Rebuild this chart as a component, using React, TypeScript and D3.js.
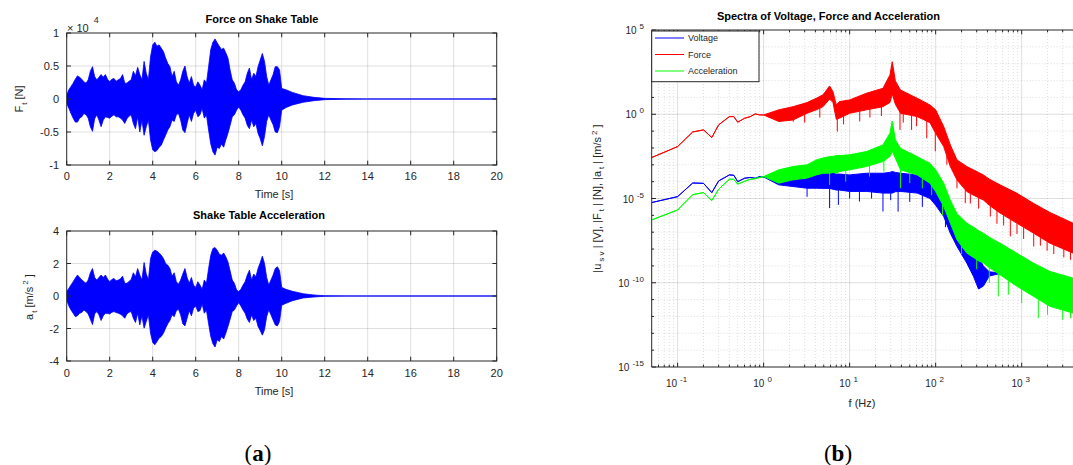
import React from 'react';
import * as d3 from 'd3';

// ---------------- DATA ----------------
const timeS = [
  0, 0.1, 0.2, 0.3, 0.4, 0.5, 0.6, 0.7, 0.8, 0.9,
  1, 1.1, 1.2, 1.3, 1.4, 1.5, 1.6, 1.7, 1.8, 1.9,
  2, 2.1, 2.2, 2.3, 2.4, 2.5, 2.6, 2.7, 2.8, 2.9,
  3, 3.1, 3.2, 3.3, 3.4, 3.5, 3.6, 3.7, 3.8, 3.9,
  4, 4.1, 4.2, 4.3, 4.4, 4.5, 4.6, 4.7, 4.8, 4.9,
  5, 5.1, 5.2, 5.3, 5.4, 5.5, 5.6, 5.7, 5.8, 5.9,
  6, 6.1, 6.2, 6.3, 6.4, 6.5, 6.6, 6.7, 6.8, 6.9,
  7, 7.1, 7.2, 7.3, 7.4, 7.5, 7.6, 7.7, 7.8, 7.9,
  8, 8.1, 8.2, 8.3, 8.4, 8.5, 8.6, 8.7, 8.8, 8.9,
  9, 9.1, 9.2, 9.3, 9.4, 9.5, 9.6, 9.7, 9.8, 9.9,
  10, 10.2, 10.5, 11, 11.5, 12, 13, 14, 20,
];

// force envelope, in units of 1e4 N
const forceUpper = [
  0.06, 0.14, 0.19, 0.24, 0.30, 0.35, 0.33, 0.30, 0.26, 0.24,
  0.29, 0.42, 0.49, 0.34, 0.29, 0.33, 0.37, 0.33, 0.37, 0.30,
  0.26, 0.30, 0.31, 0.27, 0.29, 0.31, 0.37, 0.24, 0.24, 0.27,
  0.29, 0.42, 0.35, 0.48, 0.37, 0.29, 0.57, 0.39, 0.29, 0.64,
  0.82, 0.86, 0.80, 0.82, 0.77, 0.72, 0.62, 0.54, 0.49, 0.34,
  0.42, 0.26, 0.21, 0.29, 0.42, 0.50, 0.34, 0.24, 0.34, 0.21,
  0.18, 0.26, 0.21, 0.14, 0.29, 0.24, 0.49, 0.75, 0.86, 0.91,
  0.85, 0.80, 0.75, 0.77, 0.70, 0.62, 0.44, 0.29, 0.24, 0.14,
  0.11, 0.14, 0.21, 0.26, 0.39, 0.47, 0.29, 0.39, 0.34, 0.49,
  0.59, 0.69, 0.57, 0.34, 0.21, 0.29, 0.37, 0.49, 0.49, 0.44,
  0.16, 0.14, 0.10, 0.05, 0.025, 0.01, 0.003, 0, 0,
];
const forceLower = [
  -0.07, -0.14, -0.22, -0.29, -0.35, -0.35, -0.29, -0.27, -0.22, -0.24,
  -0.29, -0.42, -0.49, -0.30, -0.24, -0.32, -0.42, -0.32, -0.27, -0.28,
  -0.29, -0.26, -0.24, -0.27, -0.27, -0.29, -0.32, -0.37, -0.30, -0.26,
  -0.24, -0.37, -0.45, -0.27, -0.50, -0.32, -0.55, -0.42, -0.32, -0.62,
  -0.77, -0.80, -0.78, -0.73, -0.70, -0.62, -0.55, -0.47, -0.42, -0.32,
  -0.34, -0.24, -0.22, -0.32, -0.47, -0.51, -0.37, -0.24, -0.34, -0.22,
  -0.17, -0.27, -0.24, -0.14, -0.29, -0.24, -0.47, -0.68, -0.80, -0.85,
  -0.73, -0.75, -0.68, -0.73, -0.62, -0.52, -0.40, -0.27, -0.24, -0.17,
  -0.12, -0.17, -0.24, -0.29, -0.40, -0.45, -0.32, -0.42, -0.37, -0.52,
  -0.60, -0.71, -0.57, -0.34, -0.24, -0.32, -0.39, -0.50, -0.51, -0.42,
  -0.17, -0.13, -0.09, -0.05, -0.025, -0.01, -0.003, 0, 0,
];

// acceleration envelope, m/s^2
const accUpper = [
  0.27, 0.47, 0.68, 0.88, 1.10, 1.29, 1.14, 1.00, 0.88, 0.78,
  0.98, 1.43, 1.69, 1.14, 0.98, 1.14, 1.29, 1.14, 1.29, 1.05,
  0.88, 1.02, 1.08, 0.94, 0.98, 1.06, 1.22, 0.78, 0.78, 0.90,
  1.02, 1.43, 1.18, 1.69, 1.29, 0.98, 2.06, 1.35, 0.98, 2.31,
  2.71, 2.82, 2.76, 2.65, 2.51, 2.31, 2.00, 1.90, 1.69, 1.22,
  1.43, 0.88, 0.73, 0.98, 1.35, 1.69, 1.14, 0.78, 1.14, 0.67,
  0.53, 0.88, 0.67, 0.41, 0.98, 0.78, 1.69, 2.51, 2.92, 2.98,
  2.82, 2.57, 2.51, 2.65, 2.41, 2.10, 1.55, 0.98, 0.78, 0.37,
  0.27, 0.41, 0.67, 0.88, 1.29, 1.59, 0.98, 1.35, 1.18, 1.69,
  2.04, 2.45, 2.00, 1.14, 0.67, 0.98, 1.29, 1.69, 1.80, 1.55,
  0.53, 0.41, 0.29, 0.14, 0.06, 0.02, 0.005, 0, 0,
];
const accLower = [
  -0.25, -0.61, -0.86, -1.06, -1.27, -1.22, -1.06, -1.02, -0.86, -0.96,
  -1.10, -1.43, -1.76, -1.10, -0.96, -1.16, -1.51, -1.22, -1.06, -1.08,
  -1.10, -1.00, -0.96, -1.02, -1.06, -1.12, -1.22, -1.37, -1.10, -1.00,
  -0.96, -1.37, -1.63, -1.06, -1.78, -1.22, -1.98, -1.57, -1.16, -2.29,
  -2.86, -3.00, -2.80, -2.59, -2.49, -2.29, -1.98, -1.71, -1.51, -1.16,
  -1.27, -0.90, -0.82, -1.16, -1.71, -1.84, -1.37, -0.90, -1.22, -0.76,
  -0.61, -0.96, -0.90, -0.49, -1.06, -0.86, -1.71, -2.49, -2.94, -3.14,
  -2.69, -2.80, -2.49, -2.65, -2.29, -1.88, -1.43, -0.96, -0.86, -0.61,
  -0.41, -0.61, -0.86, -1.06, -1.43, -1.63, -1.16, -1.51, -1.37, -1.88,
  -2.12, -2.41, -2.08, -1.27, -0.86, -1.16, -1.47, -1.78, -1.84, -1.57,
  -0.57, -0.45, -0.29, -0.12, -0.06, -0.02, -0.005, 0, 0,
];

const timeTicks = [0, 2, 4, 6, 8, 10, 12, 14, 16, 18, 20];
const forceTicks = [-1, -0.5, 0, 0.5, 1];
const accTicks = [-4, -2, 0, 2, 4];

// spectra: frequency (Hz) and log10 magnitude band (upper / lower)
const specFreq = [
  0.05, 0.1, 0.15, 0.2, 0.25, 0.3, 0.4, 0.45, 0.5, 0.6, 0.7, 0.8, 0.9, 1.0,
  1.5, 2.2, 3.2, 4.1, 4.9, 5.85, 6.4, 7.0, 7.6, 10, 15.7, 24.4, 29.4, 31.3, 34,
  39, 61, 86, 100, 124, 148, 177, 230, 275, 315, 359, 420, 560, 875, 1365,
  2130, 3940, 5000,
];
const forceSpecHi = [
  -2.57, -1.92, -1.05, -0.93, -1.38, -0.63, -0.14, -0.14, -0.47, -0.24, -0.14, 0.02, -0.04, -0.04,
  0.26, 0.45, 0.69, 0.95, 1.15, 1.68, 1.34, 0.55, 0.75, 0.85, 1.25, 1.54, 2.33, 3.12, 1.98,
  1.44, 0.95, 0.55, 0.26, -0.73, -1.82, -2.71, -3.10, -3.30, -3.45, -3.60, -3.85, -4.19, -4.68, -5.28,
  -5.83, -6.46, -6.60,
];
const forceSpecLo = [
  -2.57, -1.92, -1.05, -0.93, -1.38, -0.63, -0.14, -0.14, -0.47, -0.24, -0.14, 0.02, -0.04, -0.04,
  -0.43, -0.34, 0.06, 0.26, 0.45, 0.90, 0.70, -0.30, -0.24, 0.06, 0.26, 0.45, 0.70, 1.20, 0.60,
  0.06, -0.14, -0.50, -1.13, -1.92, -3.10, -3.90, -4.59, -4.80, -4.95, -5.09, -5.40, -5.86, -6.46, -7.05,
  -7.65, -8.24, -8.40,
];
const accSpecHi = [
  -6.27, -5.68, -4.77, -4.65, -5.12, -4.45, -3.86, -3.86, -4.15, -3.98, -3.86, -3.82, -3.75, -3.70,
  -3.30, -3.10, -3.00, -2.71, -2.60, -2.51, -2.50, -2.45, -2.45, -2.41, -2.21, -1.82, -1.13, -0.40, -1.52,
  -2.02, -2.51, -2.91, -3.30, -4.09, -5.10, -5.90, -6.46, -6.70, -6.90, -7.06, -7.30, -7.65, -8.24, -8.83,
  -9.33, -9.72, -9.80,
];
const accSpecLo = [
  -6.27, -5.68, -4.77, -4.65, -5.12, -4.45, -3.86, -3.86, -4.15, -3.98, -3.86, -3.82, -3.75, -3.70,
  -4.09, -3.89, -3.79, -3.60, -3.50, -3.50, -3.45, -3.50, -3.40, -3.30, -3.10, -2.81, -2.50, -2.20, -2.60,
  -3.30, -3.60, -4.10, -4.59, -5.47, -6.46, -7.45, -8.24, -8.50, -8.70, -8.83, -9.10, -9.53, -10.20, -10.80,
  -11.40, -11.80, -11.90,
];
const voltFreq = [
  0.05, 0.1, 0.15, 0.2, 0.25, 0.3, 0.4, 0.45, 0.5, 0.6, 0.7, 0.8, 0.9, 1.0,
  1.5, 2.2, 3.2, 4.1, 4.9, 5.85, 6.4, 7.0, 7.6, 10, 15.7, 24.4, 29.4, 31.3, 34,
  39, 61, 86, 100, 124, 148, 177, 230, 275, 315, 359, 420, 590,
];
const voltSpecHi = [
  -5.24, -4.89, -4.08, -4.10, -4.65, -3.96, -3.60, -3.62, -4.00, -3.80, -3.75, -3.80, -3.70, -3.72,
  -3.40, -3.60, -3.60, -3.50, -3.50, -3.50, -3.50, -3.55, -3.55, -3.60, -3.50, -3.50, -3.45, -3.40, -3.45,
  -3.50, -3.60, -3.79, -4.09, -4.68, -5.30, -6.00, -7.20, -7.80, -8.50, -9.00, -9.35, -9.43,
];
const voltSpecLo = [
  -5.24, -4.89, -4.08, -4.10, -4.65, -3.96, -3.60, -3.62, -4.00, -3.80, -3.75, -3.80, -3.70, -3.72,
  -4.19, -4.29, -4.39, -4.39, -4.40, -4.40, -4.45, -4.50, -4.50, -4.58, -4.58, -4.68, -4.68, -4.68, -4.60,
  -4.58, -4.68, -5.00, -5.40, -6.07, -7.06, -7.85, -8.83, -9.62, -10.37, -10.20, -9.60, -9.43,
];
// downward spikes: [frequency Hz, log10 magnitude]
const forceSpikes = [
  [2.21, -0.44], [3.0, -0.5], [4.5, -0.2], [7.19, -1.03], [8.5, -0.6], [13.1, -0.43], [17.2, -0.2],
  [23.4, -0.1], [38.5, -0.93], [42, -0.5], [52.5, -0.93], [60, -0.7], [78.8, -1.42], [99, -2.2],
  [135, -3.0], [177, -4.4], [221, -5.28], [253, -5.3], [316, -5.6], [432, -6.07], [516, -6.5],
  [617, -6.6], [738, -7.25], [882, -7.1], [1054, -7.4], [1380, -7.85], [1650, -7.8], [1975, -8.1],
  [2360, -8.3], [3090, -8.5], [3690, -8.64],
];
const accSpikes = [
  [5.85, -4.2], [9, -4.0], [17, -3.7], [25, -3.4], [39, -4.39], [50, -4.09], [70, -4.4], [90, -4.8],
  [120, -6.0], [200, -8.3], [300, -9.2], [420, -10.0], [535, -10.81], [700, -10.7], [1000, -11.2],
  [1560, -12.1], [2000, -11.9], [3000, -12.2], [3700, -12.1],
];
const voltSpikes = [
  [3.2, -4.9], [5.85, -5.57], [7.4, -5.38], [10, -5.0], [13, -5.18], [18, -5.0], [24.4, -5.77],
  [30, -5.1], [36.6, -5.78], [50, -5.2], [70, -5.5], [130, -6.7],
];

const freqDecades = [0.1, 1, 10, 100, 1000];
const freqExps = ['-1', '0', '1', '2', '3'];
const magTicks = [1e5, 1, 1e-5, 1e-10, 1e-15];
const magExps = ['5', '0', '-5', '-10', '-15'];
const legendNames = ['Voltage', 'Force', 'Acceleration'];
const seriesColors = ['#0000ff', '#ff0000', '#00ff00'];

// ---------------- STYLE ----------------
const FONT = "'Liberation Sans', Arial, Helvetica, sans-serif";
const AX = '#262626';
const GRID = 'rgba(38,38,38,0.15)';

type TP = {
  top: number; bottom: number; yMax: number; ticks: number[];
  upper: number[]; lower: number[]; title: string; titleX: number; titleY: number;
  xlabelY: number; tickY: number; id: string;
};

function TimePanel(p: TP) {
  const L = 66.7, R = 496.7;
  const x = d3.scaleLinear().domain([0, 20]).range([L, R]);
  const y = d3.scaleLinear().domain([-p.yMax, p.yMax]).range([p.bottom, p.top]);
  const area = d3.area<number>()
    .x((_, i) => x(timeS[i]))
    .y0((_, i) => y(p.lower[i]))
    .y1((d) => y(d));
  const tl = 4.3;
  return (
    <g>
      <defs>
        <clipPath id={p.id}><rect x={L} y={p.top} width={R - L} height={p.bottom - p.top} /></clipPath>
      </defs>
      {timeTicks.filter((t) => t > 0 && t < 20).map((t) => (
        <line key={'gx' + t} x1={x(t)} x2={x(t)} y1={p.top} y2={p.bottom} stroke={GRID} strokeWidth={1} />
      ))}
      {p.ticks.filter((t) => Math.abs(t) < p.yMax).map((t) => (
        <line key={'gy' + t} x1={L} x2={R} y1={y(t)} y2={y(t)} stroke={GRID} strokeWidth={1} />
      ))}
      <path d={area(p.upper) || ''} fill="#0000ff" stroke="#0000ff" strokeWidth={0.8} clipPath={`url(#${p.id})`} />
      <rect x={L} y={p.top} width={R - L} height={p.bottom - p.top} fill="none" stroke={AX} strokeWidth={1} />
      {timeTicks.map((t) => (
        <g key={'tx' + t}>
          <line x1={x(t)} x2={x(t)} y1={p.bottom} y2={p.bottom - tl} stroke={AX} />
          <line x1={x(t)} x2={x(t)} y1={p.top} y2={p.top + tl} stroke={AX} />
          <text x={x(t)} y={p.tickY} textAnchor="middle" fontSize={11} fill={AX} fontFamily={FONT}>{t}</text>
        </g>
      ))}
      {p.ticks.map((t) => (
        <g key={'ty' + t}>
          <line x1={L} x2={L + tl} y1={y(t)} y2={y(t)} stroke={AX} />
          <line x1={R} x2={R - tl} y1={y(t)} y2={y(t)} stroke={AX} />
          <text x={59} y={y(t) + 4} textAnchor="end" fontSize={11} fill={AX} fontFamily={FONT}>{t}</text>
        </g>
      ))}
      <text x={p.titleX} y={p.titleY} textAnchor="middle" fontSize={11} fontWeight="bold" fill="#000" fontFamily={FONT}>{p.title}</text>
      <text x={274} y={p.xlabelY} textAnchor="middle" fontSize={11} fill={AX} fontFamily={FONT}>Time [s]</text>
    </g>
  );
}

function lowerAt(freqs: number[], lows: number[], f: number) {
  for (let i = 0; i < freqs.length - 1; i++) {
    if (f >= freqs[i] && f <= freqs[i + 1]) {
      const a = Math.log10(freqs[i]), b = Math.log10(freqs[i + 1]);
      const t = (Math.log10(f) - a) / (b - a);
      return lows[i] + t * (lows[i + 1] - lows[i]);
    }
  }
  return lows[lows.length - 1];
}

function SpectrumPanel() {
  const L = 651.7, T = 30, B = 367;
  const x = d3.scaleLog().domain([0.05, 5000]).range([L, 1081.8]);
  const y = d3.scaleLog().domain([1e-15, 1e5]).range([B, T]);
  const Rv = 1073;
  const mk = (freqs: number[], hi: number[], lo: number[]) =>
    d3.area<number>()
      .x((_, i) => x(freqs[i]))
      .y0((_, i) => y(Math.pow(10, lo[i])))
      .y1((d) => y(Math.pow(10, d)))(hi) || '';
  const series = [
    { f: voltFreq, hi: voltSpecHi, lo: voltSpecLo, sp: voltSpikes, c: seriesColors[0] },
    { f: specFreq, hi: forceSpecHi, lo: forceSpecLo, sp: forceSpikes, c: seriesColors[1] },
    { f: specFreq, hi: accSpecHi, lo: accSpecLo, sp: accSpikes, c: seriesColors[2] },
  ];
  const minorX: number[] = [];
  for (let e = -2; e <= 3; e++) for (let m = 2; m <= 9; m++) {
    const v = m * Math.pow(10, e);
    if (v > 0.05 && v < 5000) minorX.push(v);
  }
  const minorY: number[] = [];
  for (let e = -14; e <= 4; e++) if (e % 5 !== 0) minorY.push(Math.pow(10, e));
  return (
    <g>
      <defs>
        <clipPath id="specclip"><rect x={L} y={T} width={Rv - L} height={B - T} /></clipPath>
      </defs>
      {minorX.map((v, i) => (
        <line key={'mx' + i} x1={x(v)} x2={x(v)} y1={T} y2={B} stroke={GRID} strokeDasharray="1,2" />
      ))}
      {minorY.map((v, i) => (
        <line key={'my' + i} x1={L} x2={Rv} y1={y(v)} y2={y(v)} stroke={GRID} strokeDasharray="1,2" />
      ))}
      {freqDecades.map((v) => (
        <line key={'gx' + v} x1={x(v)} x2={x(v)} y1={T} y2={B} stroke={GRID} />
      ))}
      {magTicks.filter((v) => v > 1e-15 && v < 1e5).map((v) => (
        <line key={'gy' + v} x1={L} x2={Rv} y1={y(v)} y2={y(v)} stroke={GRID} />
      ))}
      <g clipPath="url(#specclip)">
        {series.map((s, k) => (
          <g key={'s' + k}>
            <path d={mk(s.f, s.hi, s.lo)} fill={s.c} stroke={s.c} strokeWidth={1} strokeLinejoin="round" />
            {s.sp.map((p, j) => (
              <line key={j} x1={x(p[0])} x2={x(p[0])} y1={y(Math.pow(10, lowerAt(s.f, s.lo, p[0])))} y2={y(Math.pow(10, p[1]))} stroke={s.c} strokeWidth={1} />
            ))}
          </g>
        ))}
      </g>
      <line x1={L} x2={Rv} y1={B} y2={B} stroke={AX} />
      <line x1={L} x2={Rv} y1={T} y2={T} stroke={AX} />
      <line x1={L} x2={L} y1={T} y2={B} stroke={AX} />
      {freqDecades.map((v, i) => (
        <g key={'tx' + v}>
          <line x1={x(v)} x2={x(v)} y1={B} y2={B - 4.3} stroke={AX} />
          <line x1={x(v)} x2={x(v)} y1={T} y2={T + 4.3} stroke={AX} />
          <text x={x(v) - 1} y={387} textAnchor="middle" fontSize={10} fill={AX} fontFamily={FONT}>
            10<tspan dx={3} dy={-5} fontSize={8}>{freqExps[i]}</tspan>
          </text>
        </g>
      ))}
      {minorX.map((v, i) => (
        <g key={'mtx' + i}>
          <line x1={x(v)} x2={x(v)} y1={B} y2={B - 2.3} stroke={AX} />
          <line x1={x(v)} x2={x(v)} y1={T} y2={T + 2.3} stroke={AX} />
        </g>
      ))}
      {magTicks.map((v, i) => (
        <g key={'ty' + i}>
          <line x1={L} x2={L + 4.3} y1={y(v)} y2={y(v)} stroke={AX} />
          <text x={644} y={y(v) + 4} textAnchor="end" fontSize={10} fill={AX} fontFamily={FONT}>
            10<tspan dx={3} dy={-5} fontSize={8}>{magExps[i]}</tspan>
          </text>
        </g>
      ))}
      {minorY.map((v, i) => (
        <line key={'mty' + i} x1={L} x2={L + 2.3} y1={y(v)} y2={y(v)} stroke={AX} />
      ))}
      <text x={828.5} y={20} textAnchor="middle" fontSize={11} fontWeight="bold" fill="#000" fontFamily={FONT}>
        Spectra of Voltage, Force and Acceleration
      </text>
      <text x={862} y={407} textAnchor="middle" fontSize={11} fill={AX} fontFamily={FONT}>f (Hz)</text>
      <text transform="translate(601,198.5) rotate(-90)" textAnchor="middle" fontSize={11} fill={AX} fontFamily={FONT}>
        |u<tspan dx={2} dy={3} fontSize={8}>s v</tspan><tspan dy={-3}> | [V], |F</tspan><tspan dx={2} dy={3} fontSize={8}>t</tspan><tspan dy={-3}> | [N], |a</tspan><tspan dx={2} dy={3} fontSize={8}>t</tspan><tspan dy={-3}> | [m/s</tspan><tspan dx={2} dy={-4} fontSize={8}>2</tspan><tspan dy={4}> ]</tspan>
      </text>
      <rect x={651.7} y={31} width={107.3} height={50.7} fill="#fff" stroke={AX} strokeWidth={1} />
      {legendNames.map((n, i) => {
        const ly = 38 + i * 16.5;
        return (
          <g key={n}>
            <line x1={655} x2={684} y1={ly} y2={ly} stroke={seriesColors[i]} strokeWidth={1} />
            <text x={688} y={ly + 3} fontSize={9} fill={AX} fontFamily={FONT}>{n}</text>
          </g>
        );
      })}
    </g>
  );
}

export default function App() {
  return (
    <svg width={1073} height={465} viewBox="0 0 1073 465" style={{ position: 'absolute', left: 0, top: 0, background: '#fff' }}>
      <rect x={0} y={0} width={1073} height={465} fill="#fff" />
      <TimePanel id="c1" top={33} bottom={165} yMax={1} ticks={forceTicks} upper={forceUpper} lower={forceLower}
        title="Force on Shake Table" titleX={262} titleY={22.5} xlabelY={198} tickY={179.5} />
      <text x={67} y={31.5} fontSize={11} fill={AX} fontFamily={FONT}>
        × 10<tspan dx={5} dy={-9} fontSize={9}>4</tspan>
      </text>
      <text transform="translate(23,99) rotate(-90)" textAnchor="middle" fontSize={11} fill={AX} fontFamily={FONT}>
        F<tspan dx={1} dy={4} fontSize={8}>t</tspan><tspan dy={-4}> [N]</tspan>
      </text>
      <TimePanel id="c2" top={231} bottom={361} yMax={4} ticks={accTicks} upper={accUpper} lower={accLower}
        title="Shake Table Acceleration" titleX={259} titleY={219.3} xlabelY={395} tickY={377} />
      <text transform="translate(33,297) rotate(-90)" textAnchor="middle" fontSize={11} fill={AX} fontFamily={FONT}>
        a<tspan dx={1} dy={4} fontSize={8}>t</tspan><tspan dy={-4}> [m/s</tspan><tspan dx={2} dy={-5} fontSize={8}>2</tspan><tspan dy={5}> ]</tspan>
      </text>
      <SpectrumPanel />
      <text x={258} y={461} textAnchor="middle" fontSize={23} fill="#000" fontFamily="'Liberation Serif', 'Times New Roman', serif">
        (<tspan fontWeight="bold">a</tspan>)
      </text>
      <text x={838} y={461} textAnchor="middle" fontSize={23} fill="#000" fontFamily="'Liberation Serif', 'Times New Roman', serif">
        (<tspan fontWeight="bold">b</tspan>)
      </text>
    </svg>
  );
}
